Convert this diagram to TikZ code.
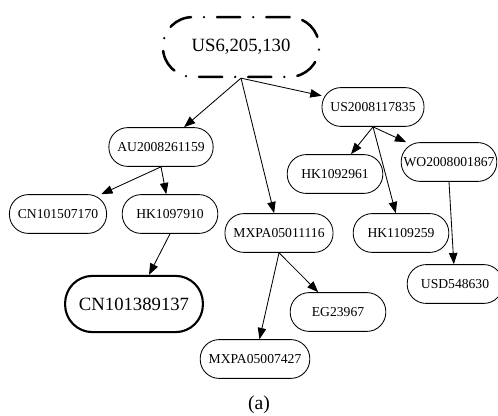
\documentclass[tikz,border=0pt]{standalone}
\usepackage{fontspec}
\setmainfont{Liberation Serif}
\usetikzlibrary{arrows.meta}

\begin{document}
\begin{tikzpicture}[->,>={Triangle[length=8pt,width=6pt]},x=0.025cm,y=-0.025cm,
		line width=0.6pt,
		main node/.style={rectangle,draw,rounded corners=13.5pt,minimum width=68pt,minimum height=27.6pt,inner xsep=6pt,font=\fontsize{9.7}{11}\selectfont},
		root node/.style={rectangle,draw,rounded corners=21pt,minimum width=111pt,minimum height=42.5pt,line width=1.8pt,line cap=round,dash pattern=on 16.5pt off 9.25pt on 0pt off 9.25pt,font=\fontsize{13.3}{15}\selectfont},
		target node/.style={rectangle,draw,rounded corners=19.5pt,minimum width=98pt,minimum height=40pt,line width=1.5pt,font=\fontsize{13.3}{15}\selectfont}]
		
		\useasboundingbox (0,0) rectangle (498,415);
		
		\node[root node] (1) at (241,47) {US6,205,130};
		\node[main node] (2) at (161,147) {AU2008261159};
		\node[main node] (3) at (373,107) {US2008117835};
		\node[main node] (4) at (58,214) {CN101507170};
		\node[main node] (5) at (170,214) {HK1097910};
		\node[main node] (6) at (335,174) {HK1092961};
		\node[main node,inner xsep=1pt] (7) at (449,162) {WO2008001867};
		\node[main node] (8) at (279,233) {MXPA05011116};
		\node[main node] (9) at (401,233) {HK1109259};
		\node[main node] (10) at (455,284) {USD548630};
		\node[target node] (11) at (134,304) {CN101389137};
		\node[main node] (12) at (338,312) {EG23967};
		\node[main node] (13) at (255,359) {MXPA05007427};
		\node[font=\fontsize{14}{16}\selectfont] (cap) at (259,405) {(a)};
		
		\path
		(1.south) edge (2)
		(1.south) edge (8)
		(1.south) edge (3)
		(2.south) edge (4)
		(2.south) edge (5)
		(5.south) edge (11)
		(3.south) edge (6)
		(3.south) edge (9)
		(3.south) edge (7)
		(7.south) edge (10)
		(8.south) edge (12)
		(8.south) edge (13);
\end{tikzpicture}
\end{document}
